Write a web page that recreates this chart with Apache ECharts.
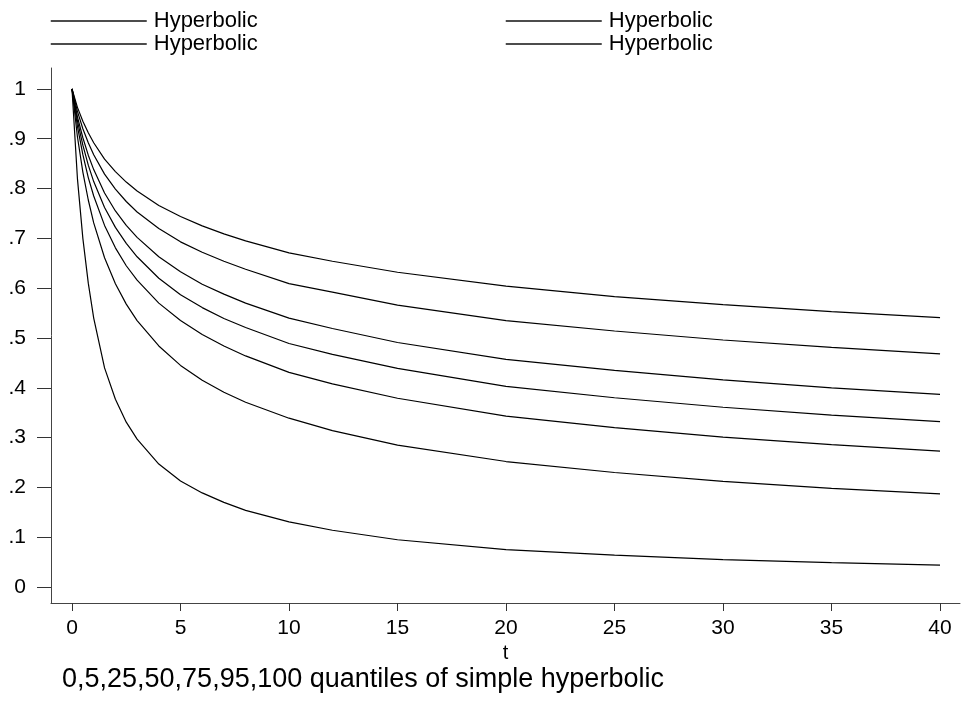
<!DOCTYPE html>
<html>
<head>
<meta charset="utf-8">
<script src="https://cdn.jsdelivr.net/npm/echarts@6/dist/echarts.min.js"></script>
<style>
html,body{margin:0;padding:0;background:#fff;}
#chart{width:965px;height:704px;}
</style>
</head>
<body>
<div id="chart"></div>
<script>
// time points (t)
var tValues = [0, 0.25, 0.5, 0.75, 1, 1.5, 2, 2.5, 3, 4, 5, 6, 7, 8, 10, 12, 15, 20, 25, 30, 35, 40];
// quantile curves (top to bottom)
var q100 = [1, 0.963, 0.935, 0.912, 0.892, 0.859, 0.834, 0.813, 0.795, 0.766, 0.744, 0.725, 0.709, 0.695, 0.671, 0.654, 0.632, 0.604, 0.583, 0.567, 0.553, 0.541];
var q95  = [1, 0.955, 0.920, 0.892, 0.868, 0.829, 0.799, 0.774, 0.753, 0.720, 0.693, 0.672, 0.654, 0.638, 0.609, 0.592, 0.566, 0.535, 0.514, 0.496, 0.481, 0.468];
var q75  = [1, 0.944, 0.902, 0.867, 0.838, 0.791, 0.755, 0.726, 0.702, 0.663, 0.633, 0.608, 0.588, 0.570, 0.540, 0.519, 0.491, 0.457, 0.435, 0.416, 0.400, 0.387];
var q50  = [1, 0.936, 0.887, 0.847, 0.814, 0.762, 0.722, 0.690, 0.663, 0.620, 0.587, 0.561, 0.539, 0.521, 0.489, 0.467, 0.439, 0.403, 0.380, 0.361, 0.345, 0.332];
var q25  = [1, 0.925, 0.868, 0.822, 0.785, 0.726, 0.681, 0.645, 0.616, 0.570, 0.535, 0.507, 0.484, 0.464, 0.431, 0.408, 0.379, 0.343, 0.320, 0.301, 0.286, 0.273];
var q5   = [1, 0.904, 0.833, 0.777, 0.731, 0.661, 0.609, 0.568, 0.535, 0.484, 0.445, 0.415, 0.391, 0.371, 0.339, 0.314, 0.285, 0.252, 0.230, 0.212, 0.198, 0.187];
var q0   = [1, 0.820, 0.700, 0.610, 0.540, 0.440, 0.377, 0.331, 0.297, 0.247, 0.213, 0.189, 0.170, 0.154, 0.131, 0.114, 0.095, 0.075, 0.064, 0.055, 0.049, 0.044];
var curves = [q100, q95, q75, q50, q25, q5, q0];
var xTicks = [0, 5, 10, 15, 20, 25, 30, 35, 40];
var yTicks = [0, 0.1, 0.2, 0.3, 0.4, 0.5, 0.6, 0.7, 0.8, 0.9, 1];
var seriesName = 'Hyperbolic';
var titleText = '0,5,25,50,75,95,100 quantiles of simple hyperbolic';
var xName = 't';

var FONT = '"Liberation Sans", Arial, Helvetica, sans-serif';

var series = curves.map(function (c) {
  return {
    name: seriesName,
    type: 'line',
    data: tValues.map(function (t, i) { return [t, c[i]]; }),
    smooth: false,
    symbol: 'none',
    lineStyle: { color: '#000', width: 1.2 },
    itemStyle: { color: '#000' },
    emphasis: { disabled: true },
    animation: false
  };
});

function legendAt(left, top) {
  return {
    data: [seriesName],
    left: left, top: top,
    orient: 'horizontal',
    itemWidth: 96, itemHeight: 14,
    selectedMode: false,
    itemStyle: { color: '#000', borderWidth: 0, opacity: 0 },
    lineStyle: { color: '#111', width: 1.5, opacity: 1 },
    textStyle: { fontFamily: FONT, fontSize: 22, color: '#000', padding: [0, 0, 0, 2] },
    padding: 0
  };
}

var chart = echarts.init(document.getElementById('chart'), null, { renderer: 'canvas' });
chart.setOption({
  backgroundColor: '#fff',
  animation: false,
  title: {
    text: titleText,
    left: 57, top: 661,
    textStyle: { fontFamily: FONT, fontSize: 27, fontWeight: 'normal', color: '#000' }
  },
  legend: [legendAt(50, 10), legendAt(50, 33), legendAt(505, 10), legendAt(505, 33)],
  grid: { left: 51, right: 5, top: 68, bottom: 101, containLabel: false },
  xAxis: {
    type: 'value',
    min: -0.968, max: 40.92,
    name: xName,
    nameLocation: 'middle',
    nameGap: 40,
    nameTextStyle: { fontFamily: FONT, fontSize: 20, color: '#000' },
    axisLine: { show: true, onZero: false, lineStyle: { color: '#444', width: 1 } },
    axisTick: { show: true, length: 8, customValues: xTicks, lineStyle: { color: '#333' } },
    axisLabel: { customValues: xTicks, margin: 15, fontFamily: FONT, fontSize: 21, color: '#000' },
    splitLine: { show: false }
  },
  yAxis: {
    type: 'value',
    min: -0.032, max: 1.042,
    axisLine: { show: true, onZero: false, lineStyle: { color: '#444', width: 1 } },
    axisTick: { show: true, length: 14, customValues: yTicks, lineStyle: { color: '#333' } },
    axisLabel: {
      customValues: yTicks, margin: 25, fontFamily: FONT, fontSize: 21, color: '#000',
      formatter: function (v) {
        var r = Math.round(v * 10);
        if (r === 0) return '0';
        if (r === 10) return '1';
        return '.' + r;
      }
    },
    splitLine: { show: false }
  },
  series: series
});
</script>
</body>
</html>
